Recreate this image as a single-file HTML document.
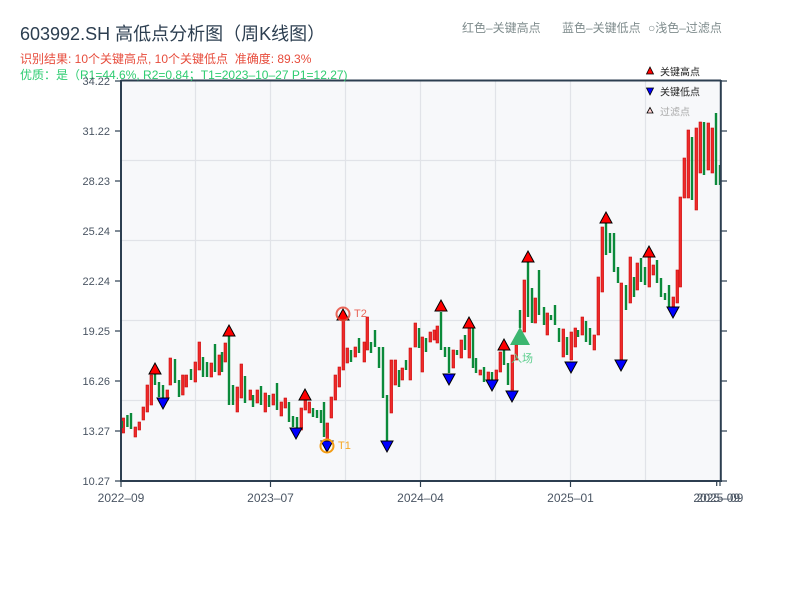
<!DOCTYPE html>
<html><head><meta charset="utf-8"><style>
html,body{margin:0;padding:0;background:#fff;}
svg{display:block;}
text{font-family:"Liberation Sans","Noto Sans CJK SC",sans-serif;white-space:pre;}
</style></head><body>
<svg width="800" height="600" viewBox="0 0 800 600" xmlns="http://www.w3.org/2000/svg">
<rect x="0" y="0" width="800" height="600" fill="#fff"/>
<rect x="121" y="81" width="600" height="400" fill="#f7f8fa"/>
<g stroke="#e1e3e8" stroke-width="1.2">
<line x1="121" y1="160.5" x2="721" y2="160.5"/>
<line x1="121" y1="240.5" x2="721" y2="240.5"/>
<line x1="121" y1="320.5" x2="721" y2="320.5"/>
<line x1="121" y1="400.5" x2="721" y2="400.5"/>
<line x1="195.5" y1="81" x2="195.5" y2="481"/>
<line x1="270.5" y1="81" x2="270.5" y2="481"/>
<line x1="345.5" y1="81" x2="345.5" y2="481"/>
<line x1="420.5" y1="81" x2="420.5" y2="481"/>
<line x1="495.5" y1="81" x2="495.5" y2="481"/>
<line x1="570.5" y1="81" x2="570.5" y2="481"/>
<line x1="645.5" y1="81" x2="645.5" y2="481"/>
</g>
<g fill="#ee2a2a" stroke="#cc0a0a" stroke-width="0.6">
<rect x="122" y="418" width="2.6" height="15"/>
<rect x="134" y="427" width="2.6" height="10"/>
<rect x="138" y="422" width="2.6" height="8"/>
<rect x="142" y="407" width="2.6" height="13"/>
<rect x="146" y="385" width="2.6" height="27"/>
<rect x="150" y="375" width="2.6" height="30"/>
<rect x="166" y="390" width="2.6" height="10"/>
<rect x="169" y="358" width="2.6" height="27"/>
<rect x="181.5" y="375" width="2.6" height="20"/>
<rect x="185" y="375" width="2.6" height="12"/>
<rect x="194" y="362" width="2.6" height="20"/>
<rect x="198" y="342" width="2.6" height="28"/>
<rect x="210" y="363" width="2.6" height="14"/>
<rect x="218" y="355" width="2.6" height="20"/>
<rect x="224" y="343" width="2.6" height="19"/>
<rect x="236" y="387" width="2.6" height="25"/>
<rect x="240" y="364" width="2.6" height="34"/>
<rect x="249" y="390" width="2.6" height="10"/>
<rect x="256" y="390" width="2.6" height="13"/>
<rect x="264" y="393" width="2.6" height="19"/>
<rect x="272" y="394" width="2.6" height="11"/>
<rect x="280" y="402" width="2.6" height="14"/>
<rect x="284" y="398" width="2.6" height="10"/>
<rect x="300" y="408" width="2.6" height="22"/>
<rect x="304" y="400" width="2.6" height="10"/>
<rect x="308" y="402" width="2.6" height="11"/>
<rect x="326" y="423" width="2.6" height="17"/>
<rect x="330" y="397" width="2.6" height="21"/>
<rect x="334" y="375" width="2.6" height="25"/>
<rect x="338" y="367" width="2.6" height="20"/>
<rect x="342" y="317" width="2.6" height="53"/>
<rect x="346" y="348" width="2.6" height="15"/>
<rect x="354" y="347" width="2.6" height="10"/>
<rect x="363" y="342" width="2.6" height="20"/>
<rect x="366" y="317" width="2.6" height="33"/>
<rect x="390" y="360" width="2.6" height="53"/>
<rect x="394" y="360" width="2.6" height="25"/>
<rect x="401" y="368" width="2.6" height="12"/>
<rect x="409" y="348" width="2.6" height="32"/>
<rect x="414" y="323" width="2.6" height="24"/>
<rect x="421" y="337" width="2.6" height="35"/>
<rect x="429" y="332" width="2.6" height="10"/>
<rect x="433" y="330" width="2.6" height="10"/>
<rect x="436" y="326" width="2.6" height="17"/>
<rect x="452" y="350" width="2.6" height="18"/>
<rect x="460" y="340" width="2.6" height="18"/>
<rect x="468" y="328" width="2.6" height="30"/>
<rect x="479" y="370" width="2.6" height="5"/>
<rect x="487" y="372" width="2.6" height="10"/>
<rect x="495" y="370" width="2.6" height="10"/>
<rect x="499" y="352" width="2.6" height="20"/>
<rect x="511" y="355" width="2.6" height="35"/>
<rect x="515" y="345" width="2.6" height="15"/>
<rect x="523" y="280" width="2.6" height="52"/>
<rect x="534" y="298" width="2.6" height="25"/>
<rect x="546" y="313" width="2.6" height="22"/>
<rect x="562" y="329" width="2.6" height="28"/>
<rect x="570" y="332" width="2.6" height="28"/>
<rect x="574" y="328" width="2.6" height="19"/>
<rect x="581" y="317" width="2.6" height="18"/>
<rect x="593" y="335" width="2.6" height="15"/>
<rect x="597" y="277" width="2.6" height="58"/>
<rect x="601" y="227" width="2.6" height="65"/>
<rect x="620" y="283" width="2.6" height="80"/>
<rect x="629" y="257" width="2.6" height="46"/>
<rect x="636" y="263" width="2.6" height="27"/>
<rect x="648" y="257" width="2.6" height="30"/>
<rect x="652" y="265" width="2.6" height="10"/>
<rect x="672" y="297" width="2.6" height="11"/>
<rect x="676" y="270" width="2.6" height="33"/>
<rect x="679" y="197" width="2.6" height="90"/>
<rect x="683" y="158" width="2.6" height="40"/>
<rect x="687" y="130" width="2.6" height="68"/>
<rect x="695" y="128" width="2.6" height="82"/>
<rect x="699" y="122" width="2.6" height="51"/>
<rect x="707" y="123" width="2.6" height="47"/>
<rect x="711" y="128" width="2.6" height="45"/>
</g>
<g fill="#0b8a3a">
<rect x="121" y="421" width="2" height="7"/>
<rect x="126.2" y="415" width="2.4" height="12"/>
<rect x="129.8" y="413" width="2.4" height="16"/>
<rect x="153.8" y="373" width="2.4" height="12"/>
<rect x="157.8" y="382" width="2.4" height="15"/>
<rect x="161.8" y="385" width="2.4" height="18"/>
<rect x="173.8" y="359" width="2.4" height="24"/>
<rect x="177.8" y="380" width="2.4" height="17"/>
<rect x="189.8" y="369" width="2.4" height="11"/>
<rect x="201.8" y="357" width="2.4" height="20"/>
<rect x="205.8" y="362" width="2.4" height="15"/>
<rect x="213.8" y="344" width="2.4" height="28"/>
<rect x="220.8" y="352" width="2.4" height="20"/>
<rect x="227.8" y="335" width="2.4" height="70"/>
<rect x="231.8" y="385" width="2.4" height="20"/>
<rect x="243.8" y="376" width="2.4" height="27"/>
<rect x="251.8" y="395" width="2.4" height="12"/>
<rect x="259.8" y="386" width="2.4" height="19"/>
<rect x="267.8" y="395" width="2.4" height="12"/>
<rect x="275.8" y="383" width="2.4" height="27"/>
<rect x="287.8" y="402" width="2.4" height="20"/>
<rect x="291.8" y="416" width="2.4" height="11"/>
<rect x="295.8" y="417" width="2.4" height="13"/>
<rect x="311.8" y="408" width="2.4" height="9"/>
<rect x="315.8" y="410" width="2.4" height="8"/>
<rect x="319.8" y="410" width="2.4" height="13"/>
<rect x="322.8" y="402" width="2.4" height="35"/>
<rect x="349.8" y="350" width="2.4" height="12"/>
<rect x="357.8" y="338" width="2.4" height="15"/>
<rect x="369.8" y="342" width="2.4" height="11"/>
<rect x="373.8" y="330" width="2.4" height="17"/>
<rect x="377.8" y="347" width="2.4" height="21"/>
<rect x="381.8" y="347" width="2.4" height="51"/>
<rect x="385.8" y="395" width="2.4" height="48"/>
<rect x="397.8" y="370" width="2.4" height="17"/>
<rect x="404.8" y="360" width="2.4" height="10"/>
<rect x="417.8" y="328" width="2.4" height="20"/>
<rect x="424.8" y="338" width="2.4" height="14"/>
<rect x="439.8" y="312" width="2.4" height="38"/>
<rect x="443.8" y="347" width="2.4" height="10"/>
<rect x="447.8" y="347" width="2.4" height="26"/>
<rect x="455.8" y="350" width="2.4" height="5"/>
<rect x="463.8" y="335" width="2.4" height="15"/>
<rect x="471.8" y="328" width="2.4" height="40"/>
<rect x="474.8" y="358" width="2.4" height="15"/>
<rect x="482.8" y="367" width="2.4" height="15"/>
<rect x="490.8" y="372" width="2.4" height="13"/>
<rect x="502.8" y="350" width="2.4" height="15"/>
<rect x="506.8" y="363" width="2.4" height="22"/>
<rect x="518.8" y="310" width="2.4" height="18"/>
<rect x="526.8" y="262" width="2.4" height="55"/>
<rect x="530.8" y="288" width="2.4" height="35"/>
<rect x="537.8" y="270" width="2.4" height="45"/>
<rect x="542.8" y="307" width="2.4" height="18"/>
<rect x="549.8" y="315" width="2.4" height="5"/>
<rect x="553.8" y="305" width="2.4" height="20"/>
<rect x="557.8" y="328" width="2.4" height="14"/>
<rect x="565.8" y="337" width="2.4" height="18"/>
<rect x="576.8" y="330" width="2.4" height="7"/>
<rect x="584.8" y="321" width="2.4" height="21"/>
<rect x="588.8" y="328" width="2.4" height="17"/>
<rect x="604.8" y="223" width="2.4" height="32"/>
<rect x="608.8" y="233" width="2.4" height="20"/>
<rect x="612.8" y="233" width="2.4" height="39"/>
<rect x="616.8" y="267" width="2.4" height="16"/>
<rect x="624.8" y="285" width="2.4" height="25"/>
<rect x="632.8" y="277" width="2.4" height="20"/>
<rect x="639.8" y="258" width="2.4" height="24"/>
<rect x="643.8" y="267" width="2.4" height="18"/>
<rect x="655.8" y="260" width="2.4" height="23"/>
<rect x="659.8" y="278" width="2.4" height="19"/>
<rect x="663.8" y="293" width="2.4" height="7"/>
<rect x="667.8" y="285" width="2.4" height="22"/>
<rect x="690.8" y="137" width="2.4" height="63"/>
<rect x="702.8" y="122" width="2.4" height="53"/>
<rect x="714.8" y="113" width="2.4" height="72"/>
<rect x="718.8" y="165" width="2.4" height="20"/>
</g>
<g fill="#ff0000" stroke="#000" stroke-width="1">
<polygon points="149,374 161,374 155,363"/>
<polygon points="223,336 235,336 229,325"/>
<polygon points="299,400 311,400 305,389"/>
<polygon points="337,320 349,320 343,309"/>
<polygon points="435,311 447,311 441,300"/>
<polygon points="463,328 475,328 469,317"/>
<polygon points="498,350 510,350 504,339"/>
<polygon points="522,262 534,262 528,251"/>
<polygon points="600,223 612,223 606,212"/>
<polygon points="643,257 655,257 649,246"/>
</g>
<g fill="#0000ff" stroke="#000" stroke-width="1">
<polygon points="157,398 169,398 163,409"/>
<polygon points="290,428 302,428 296,439"/>
<polygon points="321,441 333,441 327,452"/>
<polygon points="381,441 393,441 387,452"/>
<polygon points="443,374 455,374 449,385"/>
<polygon points="486,380 498,380 492,391"/>
<polygon points="506,391 518,391 512,402"/>
<polygon points="565,362 577,362 571,373"/>
<polygon points="615,360 627,360 621,371"/>
<polygon points="667,307 679,307 673,318"/>
</g>
<circle cx="343" cy="314" r="6.5" fill="none" stroke="#e74c3c" stroke-width="2" opacity="0.85"/>
<text x="354" y="317" font-size="11" fill="#e74c3c" opacity="0.85">T2</text>
<circle cx="327" cy="446" r="6.5" fill="none" stroke="#f39c12" stroke-width="2"/>
<text x="338" y="449" font-size="11" fill="#f5a623">T1</text>
<polygon points="510,345 530,345 520,327" fill="#27ae60" opacity="0.9"/>
<text x="511" y="362" font-size="11" fill="#5fcf8f">入场</text>
<g stroke="#2c3e50" stroke-width="2" fill="none">
<line x1="121" y1="80.5" x2="721" y2="80.5"/>
<line x1="121" y1="80" x2="121" y2="482"/>
<line x1="720.8" y1="80" x2="720.8" y2="482"/>
<line x1="120" y1="481" x2="722" y2="481"/>
</g>
<g stroke="#2c3e50" stroke-width="1.2">
<line x1="115" y1="81" x2="121" y2="81"/>
<line x1="115" y1="131" x2="121" y2="131"/>
<line x1="115" y1="181" x2="121" y2="181"/>
<line x1="115" y1="231" x2="121" y2="231"/>
<line x1="115" y1="281" x2="121" y2="281"/>
<line x1="115" y1="331" x2="121" y2="331"/>
<line x1="115" y1="381" x2="121" y2="381"/>
<line x1="115" y1="431" x2="121" y2="431"/>
<line x1="115" y1="481" x2="121" y2="481"/>
<line x1="721" y1="81" x2="727" y2="81"/>
<line x1="721" y1="131" x2="727" y2="131"/>
<line x1="721" y1="181" x2="727" y2="181"/>
<line x1="721" y1="231" x2="727" y2="231"/>
<line x1="721" y1="281" x2="727" y2="281"/>
<line x1="721" y1="331" x2="727" y2="331"/>
<line x1="721" y1="381" x2="727" y2="381"/>
<line x1="721" y1="431" x2="727" y2="431"/>
<line x1="721" y1="481" x2="727" y2="481"/>
<line x1="121" y1="481" x2="121" y2="487"/>
<line x1="270.5" y1="481" x2="270.5" y2="487"/>
<line x1="420.5" y1="481" x2="420.5" y2="487"/>
<line x1="570.5" y1="481" x2="570.5" y2="487"/>
<line x1="716.7" y1="481" x2="716.7" y2="486"/>
<line x1="720" y1="481" x2="720" y2="486"/>
</g>
<text x="20" y="40" font-size="18" fill="#2c3e50">603992.SH 高低点分析图（周K线图）</text>
<text x="20" y="63" font-size="12" fill="#e74c3c">识别结果: 10个关键高点, 10个关键低点  准确度: 89.3%</text>
<text x="20" y="79" font-size="12" fill="#2ecc71">优质：是（R1=44.6%, R2=0.84；T1=2023–10–27 P1=12.27)</text>
<g font-size="11" fill="#4a5563" text-anchor="end">
<text x="110" y="85">34.22</text>
<text x="110" y="135">31.22</text>
<text x="110" y="185">28.23</text>
<text x="110" y="235">25.24</text>
<text x="110" y="285">22.24</text>
<text x="110" y="335">19.25</text>
<text x="110" y="385">16.26</text>
<text x="110" y="435">13.27</text>
<text x="110" y="485">10.27</text>
</g>
<g font-size="12" fill="#4a5563" text-anchor="middle">
<text x="121" y="502">2022–09</text>
<text x="270.5" y="502">2023–07</text>
<text x="420.5" y="502">2024–04</text>
<text x="570.5" y="502">2025–01</text>
<text x="716.7" y="502">2025–09</text>
<text x="720" y="502">2025–09</text>
</g>
<g font-size="12" fill="#7f8c8d">
<text x="462" y="32">红色–关键高点</text>
<text x="562" y="32">蓝色–关键低点</text>
<text x="648" y="32" font-family="'Noto Sans CJK SC',sans-serif">○浅色–过滤点</text>
</g>
<polygon points="646.5,74 653.5,74 650,67" fill="#ff0000" stroke="#000" stroke-width="0.8"/>
<text x="660" y="75.5" font-size="10" fill="#222">关键高点</text>
<polygon points="646.5,88 653.5,88 650,95" fill="#0000ff" stroke="#000" stroke-width="0.8"/>
<text x="660" y="95.5" font-size="10" fill="#222">关键低点</text>
<polygon points="647,113 653,113 650,107.5" fill="#ffd0d0" stroke="#000" stroke-width="0.8"/>
<text x="660" y="115.5" font-size="10" fill="#aaa">过滤点</text>
</svg>
</body></html>
